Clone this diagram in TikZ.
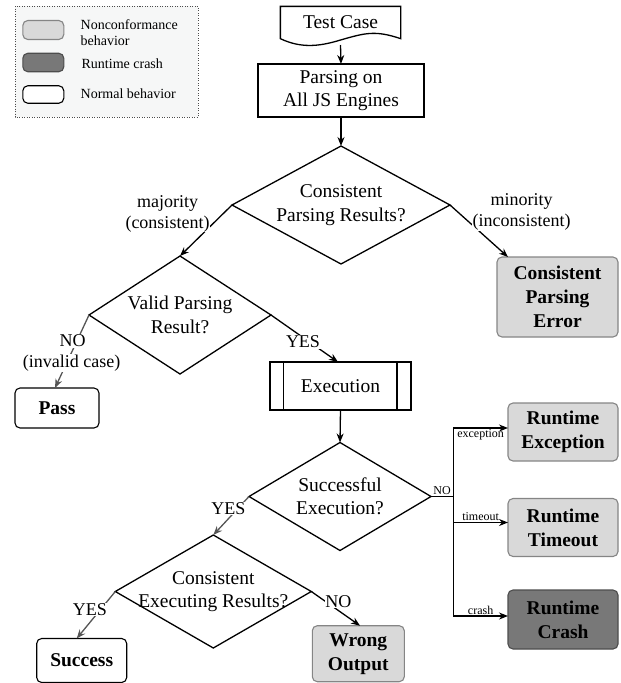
\documentclass[tikz,border=0pt]{standalone}
\usepackage{fontspec}
\setmainfont{Liberation Serif}
\usepackage{tikz}
\usetikzlibrary{shapes.geometric, arrows.meta}
\definecolor{errfill}{HTML}{D9D9D9}
\definecolor{errline}{HTML}{858585}
\definecolor{crashfill}{HTML}{787878}
\definecolor{crashline}{HTML}{4D4D4D}
\definecolor{arrgray}{HTML}{555555}
\definecolor{legfill}{HTML}{F6F7F7}

\begin{document}
\begin{tikzpicture}[x=1pt, y=-1pt, line width=1.3pt,
    font=\fontsize{19.5}{23.4}\selectfont,
    proc/.style={draw, inner sep=0, outer sep=0, align=center},
    decision/.style={draw, shape=diamond, inner sep=0, outer sep=0},
    dtext/.style={align=center, inner sep=0},
    okbox/.style={draw, line width=1.1pt, rounded corners=5pt, inner sep=0, outer sep=0, align=center, font=\fontsize{19.5}{24}\selectfont\bfseries},
    errbox/.style={okbox, fill=errfill, draw=errline},
    crashbox/.style={okbox, fill=crashfill, draw=crashline},
    arr/.style={-{Stealth[length=9pt, width=7pt]}},
    garr/.style={arr, draw=arrgray},
    elabel/.style={fill=white, inner sep=0.5pt, align=center, font=\fontsize{18}{21}\selectfont},
    small/.style={inner sep=1pt, font=\fontsize{12}{14}\selectfont},
    legtext/.style={anchor=west, inner sep=0, align=left, font=\fontsize{14}{16.5}\selectfont}]
\useasboundingbox (0,0) rectangle (621,683);

\draw[line width=1pt, draw=black!70, dash pattern=on 1pt off 1.5pt, fill=legfill] (15,6) rectangle (198,117);
\node[errbox, minimum width=41, minimum height=19] (legErr) at (43.3,30) {};
\node[crashbox, minimum width=41, minimum height=18.5] (legCrash) at (43.3,62.5) {};
\node[okbox, fill=white, minimum width=41, minimum height=17.5] (legOk) at (43.3,94.5) {};
\node[legtext] (legErrT) at (80,32.4) {Nonconformance\\behavior};
\node[legtext] (legCrashT) at (81,63.3) {Runtime crash};
\node[legtext] (legOkT) at (80,93.3) {Normal behavior};

\node[minimum width=119, minimum height=31, inner sep=0] (test) at (340.5,22.5) {Test Case};
\draw (test.south west) -- (test.north west) -- (test.north east) -- (test.south east)
  .. controls (375,30) and (365,33) .. (340.5,40) .. controls (318,47) and (300,48) .. (test.south west) -- cycle;
\coordinate (testout) at (340.5,45);
\node[proc, minimum width=166, minimum height=53] (parse) at (341,90.5) {Parsing on\\All JS Engines};
\node[decision, minimum width=218, minimum height=118, label={[dtext]center:Consistent\\Parsing Results?}] (cpr) at (341,205) {};
\node[errbox, minimum width=121, minimum height=80] (cpe) at (557.5,297) {Consistent\\Parsing\\Error};
\node[decision, minimum width=182, minimum height=118, label={[dtext]center:Valid Parsing\\Result?}] (vpr) at (180,315) {};
\node[okbox, minimum width=84, minimum height=40] (pass) at (57,408) {Pass};
\node[proc, minimum width=141, minimum height=48] (exe) at (340.5,386) {Execution};
\draw ([xshift=13.5]exe.north west) -- ([xshift=13.5]exe.south west);
\draw ([xshift=-14]exe.north east) -- ([xshift=-14]exe.south east);
\node[decision, minimum width=182, minimum height=108, label={[dtext]center:Successful\\Execution?}] (sex) at (340,496.5) {};
\node[errbox, minimum width=110, minimum height=58] (rex) at (563,432) {Runtime\\Exception};
\node[errbox, minimum width=110, minimum height=58] (rto) at (563,527.5) {Runtime\\Timeout};
\node[crashbox, minimum width=110, minimum height=59] (rcr) at (563,619.5) {Runtime\\Crash};
\node[decision, minimum width=196, minimum height=113, label={[dtext]center:Consistent\\Executing Results?}] (cer) at (213.3,591.5) {};
\node[okbox, minimum width=90, minimum height=44] (suc) at (81.7,660.5) {Success};
\node[errbox, minimum width=92, minimum height=56] (wro) at (358.3,653.7) {Wrong\\Output};

\draw[arr] (testout) -- (parse.north);
\draw[arr] (parse.south) -- (cpr.north);
\draw[arr] (cpr.west) -- (vpr.north);
\draw[arr] (cpr.east) -- ([xshift=-49.5]cpe.north);
\draw[arr] (vpr.east) -- ([xshift=-2.5]exe.north);
\draw[garr] (vpr.west) -- ([xshift=-2]pass.north);
\draw[arr] (exe.south) -- (sex.north);
\coordinate (split) at (453.3,496.5);
\draw (sex.east) -- (split) node[small, midway, above] (lblNo) {NO};
\draw[arr] (split) |- ([yshift=4]rex.west) node[small, pos=0.75, below] (lblExc) {exception};
\draw[arr] (split) |- ([yshift=5]rto.west) node[small, pos=0.75, above] (lblTo) {timeout};
\draw[arr] (split) |- ([yshift=3.5]rcr.west) node[small, pos=0.75, above] (lblCr) {crash};
\draw[garr] (sex.west) -- (cer.north);
\draw[garr] (cer.west) -- ([xshift=-5]suc.north);
\draw[arr] (cer.east) -- ([xshift=1.7]wro.north);

\node[elabel] (lblMaj) at (167.5,213.5) {majority\\(consistent)};
\node[elabel] (lblMin) at (521.7,212) {minority\\(inconsistent)};
\node[elabel] (lblYes1) at (303,342) {YES};
\node[elabel] (lblInvNo) at (72.7,341) {NO};
\node[elabel] (lblInvCase) at (71.7,363) {(invalid case)};
\node[elabel] (lblYes2) at (228.3,508.3) {YES};
\node[elabel] (lblYes3) at (90,609.3) {YES};
\node[elabel] (lblNo2) at (338.3,601.7) {NO};
\end{tikzpicture}
\end{document}
